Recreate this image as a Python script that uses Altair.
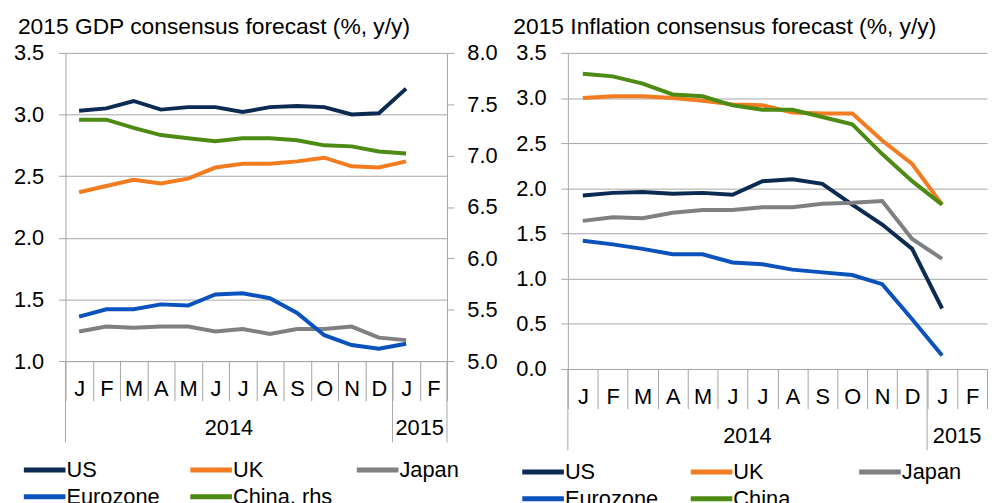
import json
import altair as alt
import pandas as pd

FONT = "Liberation Sans"

# ---------------- data ----------------
periods = ["2014-01", "2014-02", "2014-03", "2014-04", "2014-05", "2014-06", "2014-07",
           "2014-08", "2014-09", "2014-10", "2014-11", "2014-12", "2015-01", "2015-02"]
month_letters = ["J", "F", "M", "A", "M", "J", "J", "A", "S", "O", "N", "D", "J", "F"]
data_periods = periods[:13]

years = ["2014", "2015"]
year_start = ["2014-01", "2015-01"]
year_label_at = ["2014-07", "2015-02"]   # label centred on the start of this band

# GDP (left axis)
gdp_us = [3.03, 3.05, 3.11, 3.04, 3.06, 3.06, 3.02, 3.06, 3.07, 3.06, 3.00, 3.01, 3.21]
gdp_uk = [2.37, 2.42, 2.47, 2.44, 2.48, 2.57, 2.60, 2.60, 2.62, 2.65, 2.58, 2.57, 2.62]
gdp_japan = [1.24, 1.28, 1.27, 1.28, 1.28, 1.24, 1.26, 1.22, 1.26, 1.26, 1.28, 1.19, 1.17]
gdp_eurozone = [1.36, 1.42, 1.42, 1.46, 1.45, 1.54, 1.55, 1.51, 1.39, 1.21, 1.13, 1.10, 1.14]
# GDP China (right axis)
gdp_china = [7.35, 7.35, 7.27, 7.20, 7.17, 7.14, 7.17, 7.17, 7.15, 7.10, 7.09, 7.04, 7.02]

# Inflation
inf_us = [1.92, 1.95, 1.96, 1.94, 1.95, 1.93, 2.08, 2.10, 2.05, 1.82, 1.60, 1.33, 0.67]
inf_uk = [3.00, 3.02, 3.02, 3.00, 2.97, 2.93, 2.92, 2.84, 2.83, 2.83, 2.53, 2.27, 1.82]
inf_japan = [1.64, 1.68, 1.67, 1.73, 1.76, 1.76, 1.79, 1.79, 1.83, 1.84, 1.86, 1.44, 1.22]
inf_eurozone = [1.42, 1.38, 1.33, 1.27, 1.27, 1.18, 1.16, 1.10, 1.07, 1.04, 0.94, 0.55, 0.15]
inf_china = [3.27, 3.24, 3.16, 3.04, 3.02, 2.92, 2.87, 2.87, 2.79, 2.71, 2.38, 2.08, 1.82]

gdp_series = ["US", "UK", "Japan", "Eurozone", "China, rhs"]
inf_series = ["US", "UK", "Japan", "Eurozone", "China"]
series_colors = ["#0C2B52", "#F47C20", "#7F8081", "#0C52BD", "#4D8B14"]

gdp_left_ticks = [1.0, 1.5, 2.0, 2.5, 3.0, 3.5]
gdp_right_ticks = [5.0, 5.5, 6.0, 6.5, 7.0, 7.5, 8.0]
inf_ticks = [0.0, 0.5, 1.0, 1.5, 2.0, 2.5, 3.0, 3.5]

GRID = "#A6A6A6"


def long_df(names, arrays):
    rows = []
    for n, arr in zip(names, arrays):
        for p, v in zip(data_periods, arr):
            rows.append({"period": p, "series": n, "value": v})
    return pd.DataFrame(rows)


label_expr = f"{json.dumps(month_letters)}[indexof({json.dumps(periods)}, datum.value)]"

x_axis = alt.Axis(title=None, labelExpr=label_expr, tickBand="extent", tickSize=40,
                  labelPadding=-22, labelAngle=0, grid=False, domainColor=GRID,
                  tickColor=GRID, labelFontSize=22, labelColor="black", labelFont=FONT)


def xenc(band=0.5):
    return alt.X("period:O", scale=alt.Scale(type="band", domain=periods,
                                             paddingInner=0, paddingOuter=0),
                 bandPosition=band, axis=x_axis)


def legend(lx, ly, colpad):
    # a long flat line symbol (wider than its layout box) keeps rows compact
    return alt.Legend(title=None, orient="none", legendX=lx, legendY=ly, columns=3,
                      direction="horizontal", gridAlign="all", columnPadding=colpad,
                      rowPadding=-2, symbolType="M-1.6,0H1.6", symbolStrokeWidth=5,
                      symbolSize=689, labelFontSize=22, labelFont=FONT,
                      labelColor="black", labelOffset=6)


def decorations(H, end_rule):
    rules = alt.Chart(pd.DataFrame({"period": year_start})).mark_rule(
        color=GRID, strokeWidth=1).encode(
        x=xenc(0), y=alt.value(H), y2=alt.value(H + 82))
    layers = [rules]
    if end_rule:
        layers.append(alt.Chart(pd.DataFrame({"period": [periods[-1]]})).mark_rule(
            color=GRID, strokeWidth=1).encode(
            x=xenc(1), y=alt.value(H), y2=alt.value(H + 82)))
    layers.append(alt.Chart(pd.DataFrame({"period": year_label_at, "year": years})).mark_text(
        fontSize=22, font=FONT, baseline="alphabetic", align="center", color="black").encode(
        x=xenc(0), y=alt.value(H + 75), text="year:N"))
    return layers


def yaxis(values, orient, grid, pad):
    return alt.Axis(title=None, values=values, format=".1f", orient=orient, grid=grid,
                    gridColor=GRID, domainColor=GRID, tickColor=GRID, tickSize=7,
                    labelPadding=pad, labelFontSize=22, labelFont=FONT, labelColor="black")


# ---------------- left panel ----------------
W1, H1 = 385, 311
gdp_df = long_df(gdp_series[:4], [gdp_us, gdp_uk, gdp_japan, gdp_eurozone])
china_df = long_df([gdp_series[4]], [gdp_china])
gdp_color = alt.Color("series:N", scale=alt.Scale(domain=gdp_series, range=series_colors),
                      legend=legend(-37, 405, 14))

gdp_lines = alt.Chart(gdp_df).mark_line(strokeWidth=4).encode(
    x=xenc(),
    y=alt.Y("value:Q", scale=alt.Scale(domain=[1.0, 3.5], nice=False, zero=False),
            axis=yaxis(gdp_left_ticks, "left", True, 15)),
    color=gdp_color, detail="series:N")
china_line = alt.Chart(china_df).mark_line(strokeWidth=4).encode(
    x=xenc(),
    y=alt.Y("value:Q", scale=alt.Scale(domain=[5.0, 8.0], nice=False, zero=False),
            axis=yaxis(gdp_right_ticks, "right", False, 13)),
    color=gdp_color)

left = alt.layer(gdp_lines, china_line, *decorations(H1, True)).resolve_scale(
    y="independent").properties(
    width=W1, height=H1,
    title=alt.TitleParams("2015 GDP consensus forecast (%, y/y)", anchor="start",
                          frame="group", dx=-48, offset=3, fontSize=23, font=FONT,
                          fontWeight="normal", color="black"))

# ---------------- right panel ----------------
W2, H2 = 423, 319
inf_df = long_df(inf_series, [inf_us, inf_uk, inf_japan, inf_eurozone, inf_china])
inf_lines = alt.Chart(inf_df).mark_line(strokeWidth=4).encode(
    x=xenc(),
    y=alt.Y("value:Q", scale=alt.Scale(domain=[0.0, 3.5], nice=False, zero=False),
            axis=yaxis(inf_ticks, "left", True, 15)),
    color=alt.Color("series:N", scale=alt.Scale(domain=inf_series, range=series_colors),
                    legend=legend(-41, 407, 22)))

right = alt.layer(inf_lines, *decorations(H2, False)).properties(
    width=W2, height=H2,
    title=alt.TitleParams("2015 Inflation consensus forecast (%, y/y)", anchor="start",
                          frame="group", dx=-55, offset=3, fontSize=23, font=FONT,
                          fontWeight="normal", color="black"))

chart = alt.hconcat(left, right, spacing=16).resolve_scale(
    color="independent", x="independent", y="independent").properties(
    padding={"left": 5, "top": 6, "right": 0, "bottom": 0}).configure(
    font=FONT).configure_view(stroke=None)

chart.save("out.html", embed_options={"renderer": "svg", "actions": False})
